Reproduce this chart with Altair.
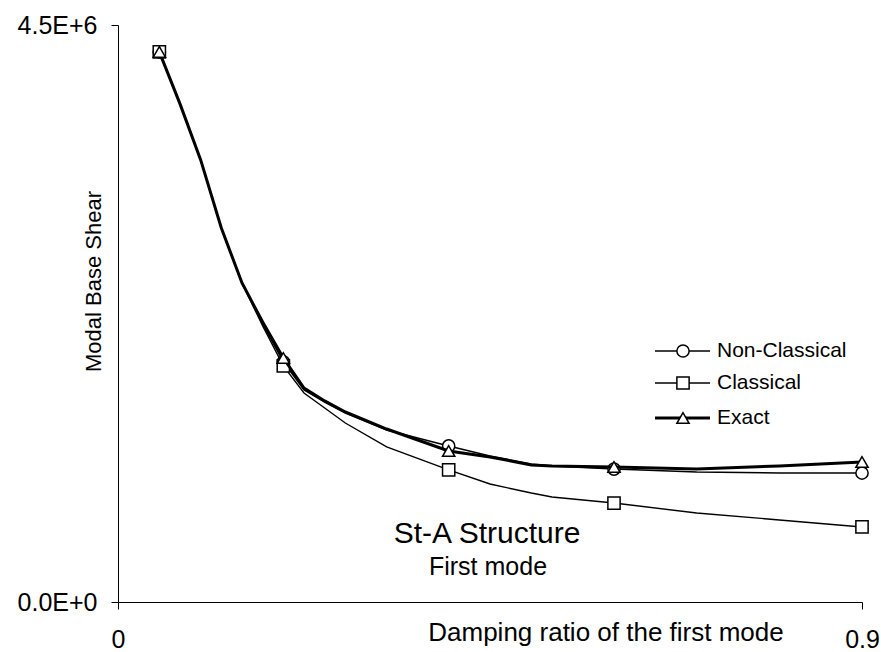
import altair as alt
import pandas as pd

# Damping ratio of the first mode at which the base shear was evaluated
damping = [0.05, 0.075, 0.1, 0.125, 0.15, 0.175, 0.2, 0.225, 0.25, 0.275,
           0.325, 0.4, 0.45, 0.5, 0.525, 0.6, 0.7, 0.8, 0.9]

# Modal base shear for each method
non_classical = [4.29e6, 3.885e6, 3.448e6, 2.917e6, 2.488e6, 2.168e6, 1.872e6,
                 1.654e6, 1.560e6, 1.474e6, 1.342e6, 1.217e6, 1.139e6, 1.076e6,
                 1.061e6, 1.037e6, 1.014e6, 1.006e6, 1.006e6]
classical = [4.29e6, 3.885e6, 3.448e6, 2.917e6, 2.488e6, 2.153e6, 1.841e6,
             1.630e6, 1.513e6, 1.396e6, 1.209e6, 1.030e6, 0.920e6, 0.850e6,
             0.819e6, 0.772e6, 0.694e6, 0.640e6, 0.585e6]
exact = [4.29e6, 3.885e6, 3.448e6, 2.917e6, 2.488e6, 2.184e6, 1.903e6,
         1.669e6, 1.568e6, 1.482e6, 1.349e6, 1.178e6, 1.131e6, 1.069e6,
         1.061e6, 1.053e6, 1.037e6, 1.061e6, 1.092e6]

# Damping ratios that carry a marker symbol
marker_damping = [0.05, 0.2, 0.4, 0.6, 0.9]

series_names = ["Non-Classical", "Classical", "Exact"]
series_values = [non_classical, classical, exact]

x_ticks = [0, 0.9]
y_ticks = [0, 4.5e6]
y_tick_labels = ["0.0E+0", "4.5E+6"]

FONT = "Liberation Sans"

# styling for each series: line width and marker shape
styles = {
    "Non-Classical": dict(width=1.5, shape="circle"),
    "Classical": dict(width=1.4, shape="square"),
    "Exact": dict(width=3.0, shape="triangle-up"),
}

y_label_expr = (
    f"datum.value == {y_ticks[0]} ? '{y_tick_labels[0]}' : '{y_tick_labels[1]}'"
)

x_enc = alt.X(
    "damping:Q",
    scale=alt.Scale(domain=[0, 0.9], nice=False, zero=False),
    axis=alt.Axis(
        values=x_ticks,
        format=".1~f",
        title="Damping ratio of the first mode",
        labelFlush=False,
        labelBaseline="alphabetic",
        labelPadding=38,
        titleX=487.5,
        titleY=38,
        titleAlign="center",
        titleBaseline="alphabetic",
        titleFontSize=26,
    ),
)
y_enc = alt.Y(
    "shear:Q",
    scale=alt.Scale(domain=[0, 4.5e6], nice=False),
    axis=alt.Axis(
        values=y_ticks,
        labelExpr=y_label_expr,
        title="Modal Base Shear",
        labelFlush=False,
        labelPadding=14,
        titleAngle=-90,
        titleX=-18,
        titleY=256,
        titleAlign="center",
        titleBaseline="alphabetic",
        titleFontSize=22,
    ),
)

layers = []
for name, values in zip(series_names, series_values):
    df = pd.DataFrame({"damping": damping, "shear": values})
    mk = df[df["damping"].round(4).isin([round(v, 4) for v in marker_damping])]
    st = styles[name]
    layers.append(
        alt.Chart(df).mark_line(color="black", strokeWidth=st["width"]).encode(
            x=x_enc, y=y_enc
        )
    )
    layers.append(
        alt.Chart(mk).mark_point(
            shape=st["shape"], filled=True, fill="white", stroke="black",
            strokeWidth=1.5, size=150, opacity=1,
        ).encode(x=x_enc, y=y_enc)
    )

# legend drawn as line-through-marker samples with labels
legend_rows = [326, 358, 393]
for name, ly in zip(series_names, legend_rows):
    st = styles[name]
    layers.append(
        alt.Chart().mark_rule(color="black", strokeWidth=st["width"]).encode(
            x=alt.value(537), x2=alt.value(592), y=alt.value(ly)
        )
    )
    layers.append(
        alt.Chart().mark_point(
            shape=st["shape"], filled=True, fill="white", stroke="black",
            strokeWidth=1.5, size=150, opacity=1,
        ).encode(x=alt.value(565), y=alt.value(ly))
    )
    layers.append(
        alt.Chart().mark_text(
            text=name, align="left", baseline="middle", font=FONT,
            fontSize=21, color="black",
        ).encode(x=alt.value(599), y=alt.value(ly))
    )

# structure / mode annotation
layers.append(
    alt.Chart().mark_text(
        text="St-A Structure", align="center", baseline="alphabetic",
        font=FONT, fontSize=30, color="black",
    ).encode(x=alt.value(369), y=alt.value(518))
)
layers.append(
    alt.Chart().mark_text(
        text="First mode", align="center", baseline="alphabetic",
        font=FONT, fontSize=25, color="black",
    ).encode(x=alt.value(370), y=alt.value(550))
)

chart = (
    alt.layer(*layers)
    .properties(
        width=744,
        height=577,
        padding={"left": 118, "top": 25, "right": 19, "bottom": 50},
        autosize=alt.AutoSizeParams(type="none"),
        background="white",
    )
    .configure_view(stroke=None)
    .configure_axis(
        grid=False,
        domainColor="black",
        domainWidth=1,
        tickColor="black",
        tickWidth=1,
        tickSize=7,
        labelFont=FONT,
        labelFontSize=25,
        labelColor="black",
        titleFont=FONT,
        titleFontWeight="normal",
        titleColor="black",
    )
)

chart.save("out.html", embed_options={"renderer": "svg", "actions": False})
